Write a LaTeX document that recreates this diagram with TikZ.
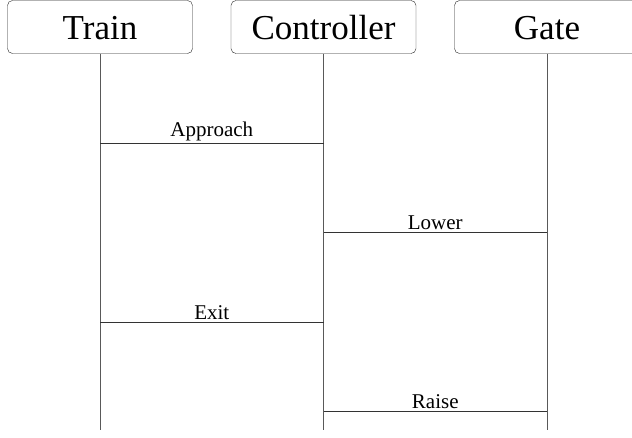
\documentclass[tikz,border=0pt]{standalone}
\usepackage{fontspec}
\setmainfont{Liberation Serif}
\usepackage{tikz}

\begin{document}
\begin{tikzpicture}[x=1pt,y=-1pt,
        actor/.style={draw=black!85,rounded corners=5pt,minimum width=185pt,minimum height=53pt,text height=27.5pt,text depth=2.5pt,font=\fontsize{35}{40}\selectfont},
        life/.style={draw=black!65,line width=0.8pt},
        msg/.style={draw=black!80,line width=0.8pt},
        msglabel/.style={font=\fontsize{21}{24}\selectfont,inner sep=2pt,above}]
        \useasboundingbox (0,0) rectangle (632,438);

        % Actor boxes
        \node[actor] (train) at (100,27) {Train};
        \node[actor] (ctrl) at (323.5,27) {Controller};
        \node[actor] (gate) at (547,27) {Gate};

        % Lifelines
        \foreach \a in {train,ctrl,gate} {
            \coordinate (\a-end) at (\a.south |- 0,430);
            \draw[life] (\a.south) -- (\a-end);
        }

        % Messages between lifelines
        \foreach \from/\to/\y/\txt in {train/ctrl/143/Approach,ctrl/gate/232/Lower,train/ctrl/322/Exit,ctrl/gate/411/Raise} {
            \coordinate (\txt-a) at (\from.south |- 0,\y);
            \coordinate (\txt-b) at (\to.south |- 0,\y);
            \draw[msg] (\txt-a) -- node[msglabel] {\txt} (\txt-b);
        }
    \end{tikzpicture}
\end{document}
